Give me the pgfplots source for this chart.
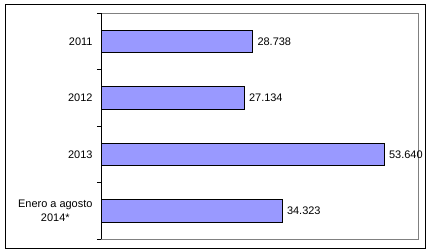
\documentclass[border=0pt]{standalone}
\usepackage{fontspec}
\setmainfont{Liberation Sans}
\usepackage{pgfplots}
\pgfplotsset{compat=1.18}
\definecolor{barc}{HTML}{9999FF}
\begin{document}
\begin{tikzpicture}
\useasboundingbox (0,0) rectangle (429bp,252bp);
\draw[black, line width=0.8bp] (5bp,4bp) rectangle (425bp,248bp);
\begin{axis}[at={(101bp,13bp)}, anchor=south west, scale only axis,
  width=317bp, height=226bp,
  xbar, xmin=0, xmax=60000, ymin=-0.5, ymax=3.5,
  bar width=22.5bp, clip=false,
  xtick=\empty,
  ytick={0,1,2,3},
  yticklabels={{Enero a agosto\\2014*},2013,2012,2011},
  yticklabel style={align=center, font=\fontsize{11}{13.5}\selectfont, xshift=-5bp},
  major tick length=0pt,
  minor ytick={-0.5,0.5,1.5,2.5,3.5},
  minor tick length=4bp,
  tick align=outside, ytick pos=left,
  tick style={black, line width=0.8bp},
  axis line style={draw=none},
  nodes near coords,
  every node near coord/.append style={font=\fontsize{11}{13}\selectfont, anchor=west, xshift=1bp},
  /pgf/number format/1000 sep={.},
  /pgf/number format/assume math mode=true,
]
\draw[gray, line width=0.8bp] (rel axis cs:0,0) -- (rel axis cs:1,0) -- (rel axis cs:1,1) -- (rel axis cs:0,1);
\addplot[draw=black, fill=barc, line width=0.8bp] coordinates {(28738,3) (27134,2) (53640,1) (34323,0)};
\draw[black, line width=0.8bp] (rel axis cs:0,0) -- (rel axis cs:0,1);
\end{axis}
\end{tikzpicture}
\end{document}
